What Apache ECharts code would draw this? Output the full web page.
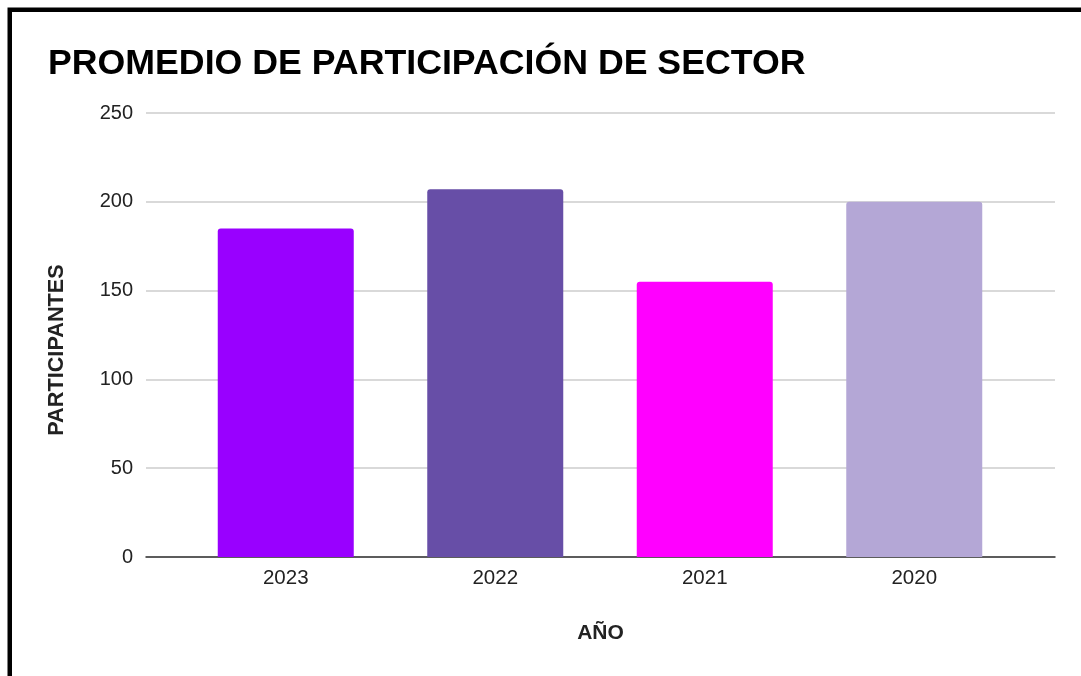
<!DOCTYPE html>
<html>
<head>
<meta charset="utf-8">
<script src="https://cdn.jsdelivr.net/npm/echarts@6/dist/echarts.min.js"></script>
<style>
html,body{margin:0;padding:0;background:#fff;}
#chart{width:1081px;height:676px;}
</style>
</head>
<body>
<div id="chart"></div>
<script>
const categories = ['2023', '2022', '2021', '2020'];
const values = [185, 207, 155, 200];
const barColors = ['#9900ff', '#674ea7', '#ff00ff', '#b4a7d6'];
const yTicks = [0, 50, 100, 150, 200, 250];

const chart = echarts.init(document.getElementById('chart'), null, {renderer: 'canvas'});
const FONT = 'Liberation Sans, Arial, sans-serif';
const yMin = yTicks[0], yMax = yTicks[yTicks.length - 1], yStep = yTicks[1] - yTicks[0];

chart.setOption({
  backgroundColor: '#ffffff',
  animation: false,
  title: {
    text: 'PROMEDIO DE PARTICIPACIÓN DE SECTOR',
    left: 43,
    top: 41,
    textStyle: {fontFamily: FONT, fontSize: 35.7, fontWeight: 'bold', color: '#000'}
  },
  graphic: [{
    type: 'rect',
    shape: {x: 9.75, y: 9.75, width: 3000, height: 3000},
    style: {fill: 'none', stroke: '#000', lineWidth: 4.5},
    silent: true, z: 100
  }, {
    type: 'text',
    x: 57, y: 350, rotation: Math.PI / 2,
    style: {
      text: 'PARTICIPANTES', fontFamily: FONT, fontSize: 21.7, fontWeight: 'bold',
      fill: '#222', textAlign: 'center', textVerticalAlign: 'middle'
    },
    silent: true
  }],
  grid: [
    {left: 146, right: 26, top: 113, bottom: 119, containLabel: false},
    {left: 181, right: 62, top: 113, bottom: 119, containLabel: false}
  ],
  xAxis: [
    {
      type: 'category', gridIndex: 0, data: categories,
      axisLine: {show: true, lineStyle: {color: '#333', width: 1.5}},
      axisTick: {show: false}, axisLabel: {show: false}, splitLine: {show: false},
      name: 'AÑO', nameLocation: 'middle', nameGap: 66,
      nameTextStyle: {fontFamily: FONT, fontSize: 21, fontWeight: 'bold', color: '#222'}
    },
    {
      type: 'category', gridIndex: 1, data: categories,
      axisLine: {show: false}, axisTick: {show: false}, splitLine: {show: false},
      axisLabel: {fontFamily: FONT, fontSize: 20.5, color: '#222', margin: 11}
    }
  ],
  yAxis: [
    {
      type: 'value', gridIndex: 0, min: yMin, max: yMax, interval: yStep,
      axisLine: {show: false}, axisTick: {show: false},
      axisLabel: {fontFamily: FONT, fontSize: 20, color: '#222', margin: 13},
      splitLine: {show: true, lineStyle: {color: '#cccccc', width: 1.5}}
    },
    {
      type: 'value', gridIndex: 1, min: yMin, max: yMax, interval: yStep,
      axisLine: {show: false}, axisTick: {show: false}, axisLabel: {show: false},
      splitLine: {show: false}
    }
  ],
  series: [{
    type: 'bar',
    xAxisIndex: 1, yAxisIndex: 1,
    data: values.map((v, i) => ({value: v, itemStyle: {color: barColors[i]}})),
    barWidth: 136,
    itemStyle: {borderRadius: [3, 3, 0, 0]},
    z: 3
  }]
});
</script>
</body>
</html>
